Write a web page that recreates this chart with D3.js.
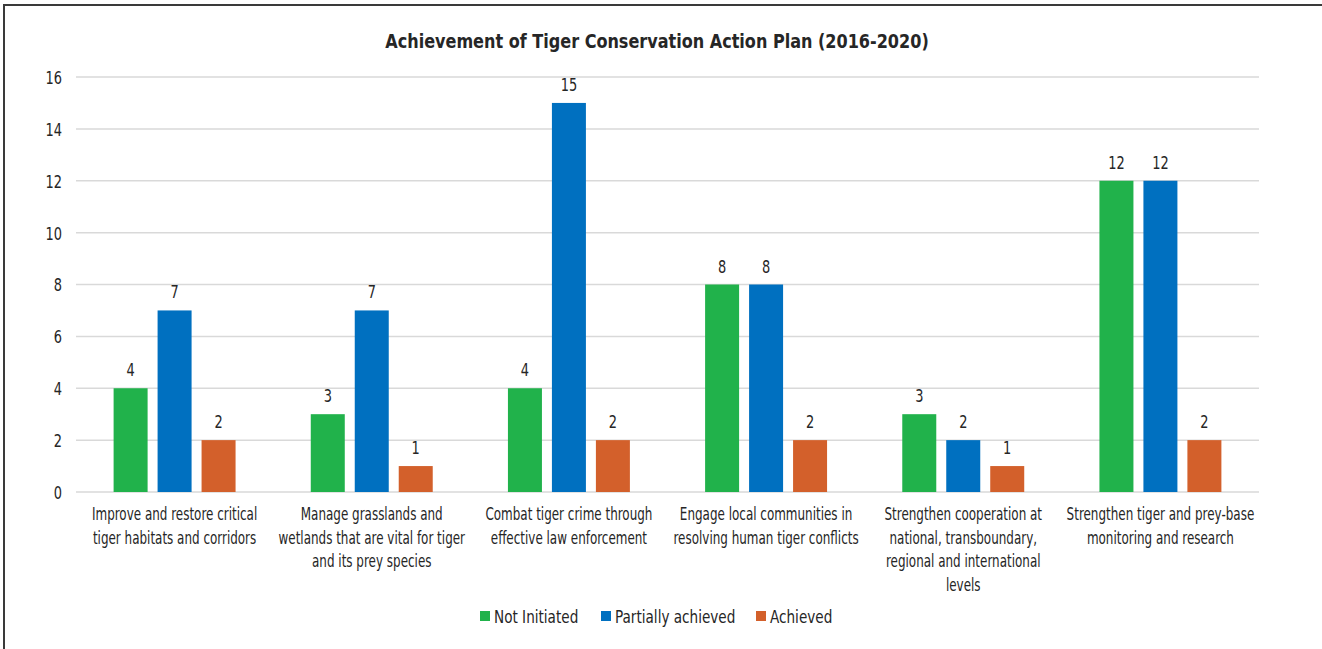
<!DOCTYPE html>
<html>
<head>
<meta charset="utf-8">
<script src="https://cdn.jsdelivr.net/npm/d3@7"></script>
<style>
  body { margin: 0; background: #fff; }
  text { font-family: "DejaVu Sans Condensed", "DejaVu Sans", sans-serif; fill: #262626; }
</style>
</head>
<body>
<div id="chart"></div>
<script>
// Data
const categories = [
    ["Improve and restore critical", "tiger habitats and corridors"],
    ["Manage grasslands and", "wetlands that are vital for tiger", "and its prey species"],
    ["Combat tiger crime through", "effective law enforcement"],
    ["Engage local communities in", "resolving human tiger conflicts"],
    ["Strengthen cooperation at", "national, transboundary,", "regional and international", "levels"],
    ["Strengthen tiger and prey-base", "monitoring and research"]
];
const seriesNames = ["Not Initiated", "Partially achieved", "Achieved"];
const notInitiated = [4, 3, 4, 8, 3, 12];
const partiallyAchieved = [7, 7, 15, 8, 2, 12];
const achieved = [2, 1, 2, 2, 1, 2];
const yTicks = [0, 2, 4, 6, 8, 10, 12, 14, 16];
const colors = ["#21B24B", "#0070C0", "#D3602B"];

const W = 1322, H = 649;
const margin = {top: 77, right: 63, bottom: 157, left: 76};
const width = W - margin.left - margin.right;
const height = H - margin.top - margin.bottom;

// squeeze text horizontally to mimic the condensed face of the original
function narrow(sel, k) {
    sel.each(function() {
        const t = d3.select(this);
        const tx = +t.attr("x") || 0, ty = +t.attr("y") || 0;
        t.attr("x", 0).attr("y", 0)
            .attr("transform", `translate(${tx},${ty}) scale(${k},1)`);
        t.selectAll("tspan").attr("x", 0);
    });
}

const svg = d3.select("#chart")
    .append("svg")
    .attr("width", W)
    .attr("height", H);

// Frame (top and left edges)
svg.append("path")
    .attr("d", `M4,${H} L4,5 L${W},5`)
    .attr("fill", "none")
    .attr("stroke", "#3a3a3a")
    .attr("stroke-width", 2);

const g = svg.append("g")
    .attr("transform", `translate(${margin.left},${margin.top})`);

const rows = categories.map((c, i) => ({
    idx: i,
    values: [notInitiated[i], partiallyAchieved[i], achieved[i]]
}));

const x0 = d3.scaleBand()
    .domain(d3.range(categories.length))
    .range([0, width])
    .padding(0);

const x1 = d3.scaleBand()
    .domain(d3.range(seriesNames.length))
    .range([0, x0.bandwidth()])
    .paddingInner(0.227)
    .paddingOuter(0.855);

const y = d3.scaleLinear()
    .domain([0, 16])
    .range([height, 0]);

// Gridlines
g.append("g")
    .selectAll("line")
    .data(yTicks)
    .enter()
    .append("line")
    .attr("x1", 0)
    .attr("x2", width)
    .attr("y1", d => y(d))
    .attr("y2", d => y(d))
    .attr("stroke", "#d9d9d9")
    .attr("stroke-width", 1.5);

// Y axis labels
const yAxis = g.append("g")
    .call(d3.axisLeft(y).tickValues(yTicks).tickSize(0).tickPadding(14));
yAxis.select(".domain").remove();
yAxis.selectAll("text")
    .style("font-family", "\"DejaVu Sans Condensed\", \"DejaVu Sans\", sans-serif")
    .style("font-size", "18px")
    .attr("fill", "#262626")
    .attr("dy", "0.36em")
    .call(narrow, 0.8);

// Bars
const groups = g.selectAll(".grp")
    .data(rows)
    .enter()
    .append("g")
    .attr("class", "grp")
    .attr("transform", d => `translate(${x0(d.idx)},0)`);

groups.selectAll("rect")
    .data(d => d.values.map((v, k) => ({k, v})))
    .enter()
    .append("rect")
    .attr("x", d => x1(d.k))
    .attr("y", d => y(d.v))
    .attr("width", x1.bandwidth())
    .attr("height", d => y(0) - y(d.v))
    .attr("fill", d => colors[d.k]);

// Value labels
groups.selectAll(".val")
    .data(d => d.values.map((v, k) => ({k, v})))
    .enter()
    .append("text")
    .attr("class", "val")
    .attr("x", d => x1(d.k) + x1.bandwidth() / 2)
    .attr("y", d => y(d.v) - 12)
    .attr("text-anchor", "middle")
    .style("font-size", "18px")
    .text(d => d.v)
    .call(narrow, 0.8);

// Category labels
const catLabels = g.selectAll(".cat")
    .data(categories)
    .enter()
    .append("text")
    .attr("class", "cat")
    .attr("x", (d, i) => x0(i) + x0.bandwidth() / 2)
    .attr("y", height + 28)
    .attr("text-anchor", "middle")
    .style("font-size", "17.5px");

catLabels.selectAll("tspan")
    .data(d => d)
    .enter()
    .append("tspan")
    .attr("dy", (d, i) => i === 0 ? 0 : 23.7)
    .text(d => d);
catLabels.call(narrow, 0.76);

// Title
svg.append("text")
    .attr("x", 657)
    .attr("y", 48)
    .attr("text-anchor", "middle")
    .style("font-size", "19px")
    .style("font-weight", "bold")
    .text("Achievement of Tiger Conservation Action Plan (2016-2020)")
    .call(narrow, 0.94);

// Legend
const legendX = [480, 601, 756];
const legend = svg.append("g")
    .selectAll("g")
    .data(seriesNames)
    .enter()
    .append("g")
    .attr("transform", (d, i) => `translate(${legendX[i]},617)`);

legend.append("rect")
    .attr("x", 0)
    .attr("y", -6)
    .attr("width", 10)
    .attr("height", 10)
    .attr("fill", (d, i) => colors[i]);

legend.append("text")
    .attr("x", 14)
    .attr("y", 6)
    .style("font-size", "18px")
    .text(d => d)
    .call(narrow, 0.84);
</script>
</body>
</html>
